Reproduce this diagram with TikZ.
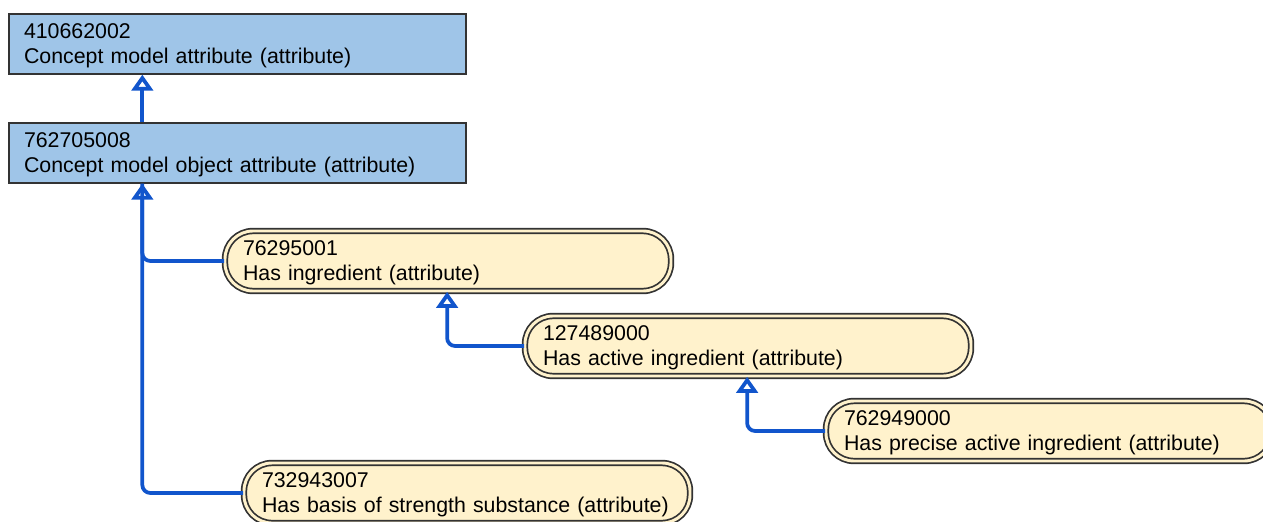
\documentclass[tikz,border=0pt]{standalone}
\usepackage{fontspec}
\setmainfont{Liberation Sans}
\usetikzlibrary{arrows.meta,calc}
\definecolor{connblue}{HTML}{1155CC}
\definecolor{boxblue}{HTML}{9FC5E8}
\definecolor{cream}{HTML}{FFF2CC}
\definecolor{edge}{HTML}{333333}
\newcommand\twoline[2]{\mbox{#1}\\\mbox{#2}}
\tikzset{
  sqbox/.style={rectangle, draw=edge, line width=1pt, fill=boxblue,
    minimum width=342.75pt, minimum height=45pt, inner xsep=11.25pt, inner ysep=0pt,
    text width=320.25pt, text height=14.5pt, text depth=22.2pt, align=left,
    font=\fontsize{16}{18.75}\selectfont},
  rbox/.style={rectangle, rounded corners=21pt, draw=edge, line width=1.3pt,
    double=cream, double distance=2.2pt, fill=cream,
    minimum width=334.5pt, minimum height=45pt, inner xsep=13.5pt, inner ysep=0pt,
    text width=307.5pt, text height=14.5pt, text depth=22.2pt, align=left,
    font=\fontsize{16}{18.75}\selectfont},
  conn/.style={draw=connblue, line width=2.8pt, rounded corners=6pt},
  isa/.style={-{Triangle[open, length=12pt, width=16pt]}}
}
\begin{document}
\begin{tikzpicture}[x=0.75pt, y=-0.75pt]
\useasboundingbox (0,0) rectangle (1263,521);
\clip (0,0) rectangle (1263,521);
\node[sqbox] (b1) at (237.5,44) {\twoline{410662002}{Concept model attribute (attribute)}};
\node[sqbox] (b2) at (237.5,153) {\twoline{762705008}{Concept model object attribute (attribute)}};
\node[rbox] (b3) at (448,261) {\twoline{76295001}{Has ingredient (attribute)}};
\node[rbox] (b4) at (748,346) {\twoline{127489000}{Has active ingredient (attribute)}};
\node[rbox] (b5) at (1049,431) {\twoline{762949000}{Has precise active ingredient (attribute)}};
\node[rbox] (b6) at (467,493) {\twoline{732943007}{Has basis of strength substance (attribute)}};
\coordinate (t1) at ($(b1.south west)+(134,0)$);
\coordinate (t2) at ($(b2.south west)+(134,0)$);
\coordinate (t3) at ($(b3.south west)+(223,0)$);
\coordinate (t4) at ($(b4.south west)+(223,0)$);
\draw[conn, isa] (b2.north -| t1) -- (t1);
\draw[conn] (b3.west) -| (t2);
\draw[conn, isa] (b6.west) -| (t2);
\draw[conn, isa] (b4.west) -| (t3);
\draw[conn, isa] (b5.west) -| (t4);
\end{tikzpicture}
\end{document}
